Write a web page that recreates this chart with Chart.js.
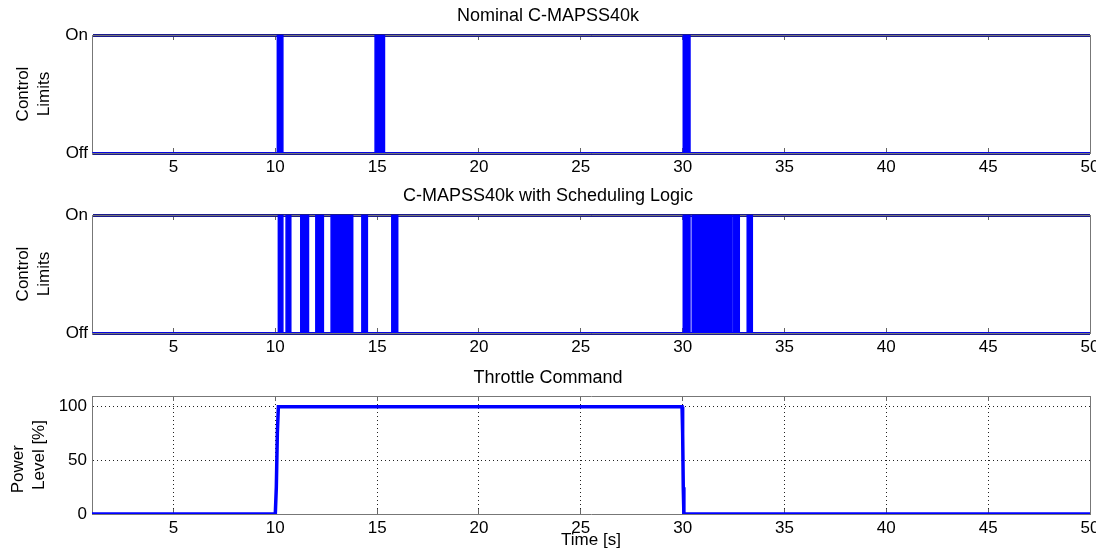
<!DOCTYPE html>
<html>
<head>
<meta charset="utf-8">
<title>C-MAPSS40k control limits</title>
<script src="https://cdn.jsdelivr.net/npm/chart.js@4.4.0/dist/chart.umd.min.js"></script>
<style>
  body { margin: 0; background: #fff; }
  canvas { position: absolute; left: 0; }
</style>
</head>
<body>
<canvas id="nominal" width="1096" height="180" style="top:0px"></canvas>
<canvas id="scheduling" width="1096" height="180" style="top:180px"></canvas>
<canvas id="throttle" width="1096" height="195" style="top:360px"></canvas>
<script>
// shared time axis
const timeTicks = [5, 10, 15, 20, 25, 30, 35, 40, 45, 50]
const stateValues = [0, 1]
const stateLabels = ["Off", "On"]
const powerTicks = [0, 50, 100]

// control limit active intervals [s] (start / end)
const nominalOn  = [10.10, 14.90, 30.03]
const nominalOff = [10.37, 15.36, 30.36]

const schedOn  = [10.15, 10.53, 11.25, 11.99, 12.74, 14.25, 15.72, 30.03, 30.47, 32.48, 33.17]
const schedOff = [10.37, 10.76, 11.63, 12.36, 13.80, 14.52, 16.01, 30.36, 32.40, 32.78, 33.42]

// throttle command
const throttleTime  = [1, 10.0, 10.05, 10.1, 10.15, 29.97, 30.0, 30.03, 30.06, 50]
const throttlePower = [0, 0, 25, 75, 100, 100, 75, 25, 0, 0]

const BLUE = "#0000ff"
const NAVY = "#1a1a8e"
const AXIS = "#777"

Chart.defaults.font.family = "'Liberation Sans', Arial, sans-serif"
Chart.defaults.color = "#000"

function limitPoints(on, off) {
  const pts = [{ x: 1, y: 0 }]
  on.forEach((t, i) => {
    pts.push({ x: t, y: 0 }, { x: t, y: 1 }, { x: off[i], y: 1 }, { x: off[i], y: 0 })
  })
  pts.push({ x: 50, y: 0 })
  return pts
}

function timeScales(cfg) {
  const setTicks = s => { s.ticks = timeTicks.map(v => ({ value: v })) }
  return {
    x: {
      type: "linear", position: "bottom", min: 1, max: 50,
      afterBuildTicks: setTicks,
      afterFit: s => { s.height = cfg.xHeight; s.paddingLeft = 0; s.paddingRight = 0 },
      ticks: { font: { size: 17 }, padding: cfg.xTickPad, maxRotation: 0, autoSkip: false },
      grid: { drawOnChartArea: cfg.dotted, color: "#222", tickLength: -5, tickColor: "#666", tickBorderDash: [] },
      border: { color: AXIS, dash: cfg.dotted ? [1, 3] : [] },
      title: cfg.xTitle
        ? { display: true, text: cfg.xTitle, font: { size: 17 }, padding: { top: 0, bottom: 4 } }
        : { display: false }
    },
    x2: {
      type: "linear", position: "top", min: 1, max: 50,
      afterBuildTicks: setTicks,
      afterFit: s => { s.height = 0; s.paddingLeft = 0; s.paddingRight = 0 },
      ticks: { display: false },
      grid: { drawOnChartArea: false, tickLength: -5, color: "#666", tickBorderDash: [] },
      border: { color: AXIS }
    },
    y2: {
      type: "linear", position: "right", min: 0, max: 1,
      afterFit: s => { s.width = 6; s.paddingTop = 0; s.paddingBottom = 0 },
      ticks: { display: false },
      grid: { display: false },
      border: { color: AXIS }
    }
  }
}

function limitsChart(id, title, on, off) {
  const scales = timeScales({ xHeight: 27, xTickPad: 9.5, dotted: false })
  scales.y = {
    type: "linear", min: 0, max: 1, z: 1,
    afterBuildTicks: s => { s.ticks = stateValues.map(v => ({ value: v })) },
    afterFit: s => { s.width = 92; s.paddingTop = 0; s.paddingBottom = 0 },
    ticks: { font: { size: 17 }, padding: 4, callback: v => stateLabels[v] },
    grid: { color: NAVY, lineWidth: 3, drawTicks: false },
    border: { color: AXIS },
    title: { display: true, text: ["Control", "Limits"], font: { size: 17, lineHeight: 1.25 }, padding: { top: 12.4, bottom: 0 } }
  }
  return new Chart(document.getElementById(id), {
    type: "line",
    data: {
      datasets: [{
        xAxisID: "x",
        yAxisID: "y",
        data: limitPoints(on, off),
        borderColor: BLUE,
        backgroundColor: BLUE,
        borderWidth: 1.5,
        pointRadius: 0,
        fill: "origin"
      }]
    },
    options: {
      responsive: false,
      animation: false,
      layout: { padding: 0 },
      plugins: {
        legend: { display: false },
        tooltip: { enabled: false },
        title: { display: true, text: title, font: { size: 18, weight: "normal" }, color: "#000", padding: { top: 5.2, bottom: 8.2 } }
      },
      scales: scales
    }
  })
}

limitsChart("nominal", "Nominal C-MAPSS40k", nominalOn, nominalOff)
limitsChart("scheduling", "C-MAPSS40k with Scheduling Logic", schedOn, schedOff)

// throttle panel
const thrScales = timeScales({ xHeight: 41, xTickPad: 9, dotted: true, xTitle: "Time [s]" })
thrScales.y = {
  type: "linear", min: 0, max: 110,
  afterBuildTicks: s => { s.ticks = powerTicks.map(v => ({ value: v })) },
  afterFit: s => { s.width = 92; s.paddingTop = 0; s.paddingBottom = 0 },
  ticks: { font: { size: 17 }, padding: 5 },
  grid: { color: "#222", drawTicks: false },
  border: { color: AXIS, dash: [1, 3] },
  title: { display: true, text: ["Power      ", "Level [%]"], font: { size: 17, lineHeight: 1.25 }, padding: { top: 7.4, bottom: 0 } }
}

new Chart(document.getElementById("throttle"), {
  type: "line",
  data: {
    datasets: [{
      xAxisID: "x",
      yAxisID: "y",
      data: throttleTime.map((t, i) => ({ x: t, y: throttlePower[i] })),
      borderColor: BLUE,
      borderWidth: 3.5,
      pointRadius: 0,
      fill: false
    }]
  },
  options: {
    responsive: false,
    animation: false,
    layout: { padding: 0 },
    plugins: {
      legend: { display: false },
      tooltip: { enabled: false },
      title: { display: true, text: "Throttle Command", font: { size: 18, weight: "normal" }, color: "#000", padding: { top: 7.2, bottom: 7.2 } }
    },
    scales: thrScales
  }
})
</script>
</body>
</html>
